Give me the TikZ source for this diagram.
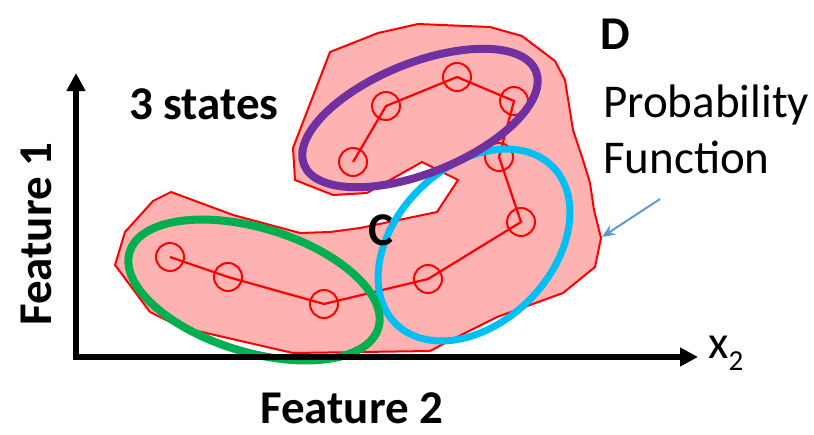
\documentclass[tikz,border=0pt]{standalone}
\usepackage{fontspec}
\setmainfont{Carlito}
\usetikzlibrary{arrows.meta}

\definecolor{blobfill}{RGB}{255,178,178}
\definecolor{blobline}{RGB}{255,0,0}
\definecolor{stateA}{RGB}{0,176,80}
\definecolor{stateB}{RGB}{0,191,243}
\definecolor{stateC}{RGB}{112,48,160}
\definecolor{pointer}{RGB}{91,155,213}

\tikzset{
  obs/.style={circle, draw=blobline, line width=2pt, minimum size=28pt, inner sep=0pt},
  chain/.style={draw=blobline, line width=2.2pt},
  stateloop/.style={line width=8pt},
  axis/.style={line width=6pt, line join=miter, {Triangle[length=18pt,width=18pt]}-{Triangle[length=18pt,width=18pt]}},
  bigbold/.style={font=\fontsize{47}{47}\selectfont\bfseries, inner sep=0pt},
  bigtext/.style={font=\fontsize{47}{47}\selectfont, inner sep=0pt},
}

\begin{document}
\begin{tikzpicture}[x=1pt, y=-1pt]
\useasboundingbox (0,0) rectangle (814,434);

% density region of the probability function
\fill[blobfill, draw=blobline, line width=2pt, line join=miter]
  (330,52) -- (378,33) -- (418,24) -- (490,27) -- (522,36) -- (555,61)
  -- (565,80) -- (573,130) -- (583,160) -- (590,183) -- (594,210)
  -- (601,238) -- (595,267) -- (563,293) -- (497,317) -- (447,342)
  -- (430,351) -- (293,353) -- (180,327) -- (150,312) -- (115,265)
  -- (125,232) -- (153,201) -- (171,192) -- (233,215) -- (300,233)
  -- (330,232) -- (360,228) -- (437,212) -- (458,180) -- (422,162)
  -- (367,193) -- (333,195) -- (295,180) -- (293,148) -- cycle;

% observation sequence
\node[obs] (s1) at (170,257) {};
\node[obs] (s2) at (228,277) {};
\node[obs] (s3) at (324,304) {};
\node[obs] (s4) at (428,279) {};
\node[obs] (s5) at (521,222) {};
\node[obs] (s6) at (499,157) {};
\node[obs] (s7) at (514,101) {};
\node[obs] (s8) at (457,77) {};
\node[obs] (s9) at (386,106) {};
\node[obs] (s10) at (353,162) {};
\draw[chain] (s1.center) -- (s2.center) -- (s3.center) -- (s4.center)
  -- (s5.center) -- (s6.center) -- (s7.center) -- (s8.center)
  -- (s9.center) -- (s10.center);

% the three states
\coordinate (cA) at (254,290);
\coordinate (cB) at (474,245);
\coordinate (cC) at (420,118);
\draw[stateloop, draw=stateB, line width=7pt, rotate around={45:(cB)}]
  (cB) ellipse [x radius=111, y radius=78];
\draw[stateloop, draw=stateA, rotate around={-17:(cA)}]
  (cA) ellipse [x radius=130, y radius=62];
\draw[stateloop, draw=stateC, rotate around={22:(cC)}]
  (cC) ellipse [x radius=125, y radius=55];

% axes
\coordinate (ytop) at (76,73);
\coordinate (orig) at (76,357);
\coordinate (xend) at (698,357);
\draw[axis] (ytop) -- (orig) -- (xend);

% labels
\node[bigbold, anchor=base west] (states) at (129,119) {3 states};
\node[bigbold, anchor=base west] (lD) at (600,49) {D};
\node[bigbold, anchor=base west] (lC) at (368,245) {C};
\node[bigtext, anchor=base west] (prob) at (603,117) {Probability};
\node[bigtext, anchor=base west] (func) at (603,173) {Function};
\node[bigbold, anchor=base west] (f2) at (260,423) {Feature 2};
\node[bigbold, anchor=base west, rotate=90] (f1) at (51,326) {Feature 1};
\node[bigtext, anchor=base west] (x2) at (708,358)
  {x\raisebox{-12pt}{\fontsize{29}{29}\selectfont 2}};

% pointer to the region boundary
\coordinate (pfTail) at (660,199);
\coordinate (pfTip) at (602,237);
\draw[pointer, line width=2pt, -{Stealth[length=13pt,width=11pt]}] (pfTail) -- (pfTip);
\end{tikzpicture}
\end{document}
